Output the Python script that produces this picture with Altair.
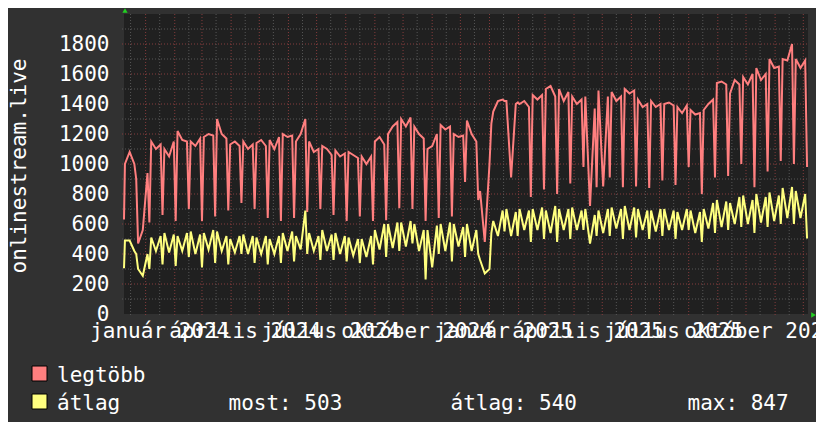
import datetime as dt
import altair as alt
import pandas as pd

# ---------------- data ----------------
START = dt.date(2023, 12, 9)
END = dt.date(2025, 12, 6)
TOTAL_DAYS = (END - START).days
PERIOD_DAYS = 14
POINT_OFFSETS = [1, 6, 11, 13]

red_start = 630
yel_start = 305

red_a = [1000, 470, 1150, 1100, 1220, 1150, 1180, 1300, 1130, 1150, 1140, 1160, 1200, 1150, 1150, 1120,
         1090, 1080, 1050, 1150, 1200, 1300, 1250, 1100, 1260, 1200, 1290, 820, 1350, 1420, 1400, 1460,
         1500, 1500, 1450, 1450, 1490, 1480, 1500, 1430, 1420, 1400, 1380, 1360, 1360, 1540, 1470, 1580,
         1640, 1700, 1700, 1700]
red_m = [1080, 560, 1100, 1050, 1160, 1120, 1200, 1200, 1150, 1100, 1160, 1100, 1180, 1200, 1080, 1100,
         1050, 1060, 1000, 1180, 1250, 1250, 1200, 1120, 1230, 1180, 1200, 480, 1420, 910, 1420, 1430,
         1520, 1420, 1400, 720, 850, 1420, 1470, 1380, 1380, 1410, 1340, 1330, 1400, 1550, 1560, 1530,
         1560, 1640, 1690, 1640]
red_c = [1000, 940, 1130, 1150, 1150, 1170, 1190, 1170, 1120, 1130, 1120, 1180, 1190, 1300, 1100, 1060,
         1070, 1040, 1050, 1130, 1280, 1310, 1170, 1200, 1250, 1190, 1150, 1000, 1430, 1400, 1380, 1460,
         1450, 1480, 1430, 1370, 1450, 1450, 1490, 1400, 1400, 1390, 1390, 1340, 1430, 1530, 1530, 1600,
         1600, 1650, 1800, 1690]
red_lo = [900, 610, 660, 620, 700, 620, 650, 690, 740, 700, 640, 620, 640, 680, 700, 660,
          620, 650, 620, 625, 705, 700, 620, 640, 650, 880, 760, 1270, 1420, 1410, 780, 830,
          800, 870, 980, 845, 910, 845, 850, 840, 890, 860, 980, 800, 910, 920, 1000, 845,
          950, 1020, 1000, 980]

yel_a = [490, 300, 510, 540, 520, 550, 540, 550, 500, 530, 510, 500, 540, 520, 540, 560,
         540, 510, 500, 560, 600, 610, 600, 560, 600, 600, 600, 360, 620, 700, 700, 700,
         690, 700, 710, 700, 690, 710, 720, 700, 690, 700, 680, 690, 700, 760, 740, 790,
         800, 810, 840, 820]
yel_m = [490, 255, 420, 410, 420, 400, 430, 420, 410, 400, 400, 400, 420, 430, 420, 420,
         400, 390, 380, 430, 440, 450, 420, 310, 420, 450, 420, 270, 520, 520, 560, 560,
         540, 560, 560, 470, 540, 570, 560, 560, 550, 560, 560, 540, 570, 580, 600, 600,
         610, 620, 640, 640]
yel_c = [420, 400, 520, 530, 540, 530, 560, 520, 520, 520, 520, 520, 550, 690, 520, 530,
         520, 500, 520, 600, 610, 620, 560, 590, 610, 580, 560, 300, 690, 680, 690, 710,
         720, 700, 690, 660, 700, 700, 710, 690, 700, 690, 700, 680, 740, 750, 780, 760,
         780, 790, 847, 800]
yel_lo = [400, 300, 330, 320, 380, 310, 340, 330, 400, 340, 330, 340, 350, 400, 360, 360,
          350, 340, 330, 380, 420, 470, 230, 400, 350, 380, 400, 540, 550, 520, 480, 500,
          480, 500, 560, 520, 520, 500, 510, 500, 520, 500, 560, 480, 540, 560, 580, 540,
          580, 600, 600, 503]

series_names = ["legtöbb", "átlag"]
series_colors = ["#ff7f7f", "#ffff7f"]

x_label_texts = ["január 2024", "április 2024", "július 2024", "október 2024",
                 "január 2025", "április 2025", "július 2025", "október 2025"]
x_label_dates = [dt.date(2024, 1, 16), dt.date(2024, 4, 16), dt.date(2024, 7, 16), dt.date(2024, 10, 16),
                 dt.date(2025, 1, 16), dt.date(2025, 4, 16), dt.date(2025, 7, 16), dt.date(2025, 10, 16)]
y_label_values = [0, 200, 400, 600, 800, 1000, 1200, 1400, 1600, 1800]

legend_now = "most: 503"
legend_avg = "átlag: 540"
legend_max = "max: 847"

# ---------------- tables ----------------
rows = [{"day": 0, "value": red_start, "series": series_names[0]},
        {"day": 0, "value": yel_start, "series": series_names[1]}]
for k in range(len(red_a)):
    base = k * PERIOD_DAYS
    for off, rv, yv in zip(POINT_OFFSETS,
                           (red_a[k], red_m[k], red_c[k], red_lo[k]),
                           (yel_a[k], yel_m[k], yel_c[k], yel_lo[k])):
        rows.append({"day": base + off, "value": rv, "series": series_names[0]})
        rows.append({"day": base + off, "value": yv, "series": series_names[1]})
lines_df = pd.DataFrame(rows)

month_starts = pd.date_range("2024-01-01", "2025-12-31", freq="MS")
vmajor = pd.DataFrame({"day": [(d.date() - START).days for d in month_starts]})
mid_days = [dt.date(2023, 12, 16)] + [dt.date(d.year, d.month, 16) for d in month_starts]
vminor = pd.DataFrame({"day": [(d - START).days for d in mid_days if (d - START).days < TOTAL_DAYS]})
hmajor = pd.DataFrame({"value": list(range(200, 2000, 200))})
hminor = pd.DataFrame({"value": list(range(100, 2000, 200))})

xlab_df = pd.DataFrame({"day": [(d - START).days for d in x_label_dates], "label": x_label_texts})
one = pd.DataFrame({"a": [0]})

# ---------------- chart ----------------
FONT = "DejaVu Sans Mono"
FS = 21
W, H = 684, 300
xscale = alt.Scale(domain=[0, TOTAL_DAYS], nice=False, zero=False)
yscale = alt.Scale(domain=[0, 2000], nice=False, zero=False)

yaxis = alt.Axis(values=y_label_values, format="d", grid=False, domain=False, ticks=False, tickSize=0,
                 labelPadding=15, labelFont=FONT, labelFontSize=FS, labelColor="#ffffff",
                 labelFlush=False, labelOverlap=False, labelBound=False,
                 title="onlinestream.live", titleFont=FONT, titleFontSize=FS,
                 titleFontWeight="normal", titleColor="#ffffff", titleAngle=270,
                 titleX=-99, titleY=151.5, titleAlign="center", titleBaseline="alphabetic")

grid_minor_c = "#565656"
grid_major_c = "#853c3c"
DASH = [1, 2]

h_minor = alt.Chart(hminor).mark_rule(color=grid_minor_c, strokeDash=DASH, strokeWidth=1).encode(
    y=alt.Y("value:Q", scale=yscale, axis=yaxis), x=alt.value(-2), x2=alt.value(W))
h_major = alt.Chart(hmajor).mark_rule(color=grid_major_c, strokeDash=DASH, strokeWidth=1).encode(
    y=alt.Y("value:Q", scale=yscale, axis=yaxis), x=alt.value(-2), x2=alt.value(W))
v_minor = alt.Chart(vminor).mark_rule(color=grid_minor_c, strokeDash=DASH, strokeWidth=1).encode(
    x=alt.X("day:Q", scale=xscale, axis=None), y=alt.value(0), y2=alt.value(H + 2))
v_major = alt.Chart(vmajor).mark_rule(color=grid_major_c, strokeDash=DASH, strokeWidth=1).encode(
    x=alt.X("day:Q", scale=xscale, axis=None), y=alt.value(0), y2=alt.value(H + 3))

lines = alt.Chart(lines_df).mark_line(strokeWidth=2, interpolate="linear").encode(
    x=alt.X("day:Q", scale=xscale, axis=None),
    y=alt.Y("value:Q", scale=yscale, axis=yaxis),
    color=alt.Color("series:N", scale=alt.Scale(domain=series_names, range=series_colors), legend=None),
    detail="series:N",
)

xlabels = alt.Chart(xlab_df).mark_text(font=FONT, fontSize=FS, color="#ffffff", align="center",
                                        baseline="alphabetic").encode(
    x=alt.X("day:Q", scale=xscale, axis=None), y=alt.value(323.5), text="label:N")

arrow_up = alt.Chart(one).mark_point(shape="triangle-up", filled=True, size=28, color="#22d022",
                                     opacity=1).encode(x=alt.value(1), y=alt.value(-3.5))
arrow_right = alt.Chart(one).mark_point(shape="triangle-right", filled=True, size=28, color="#22d022",
                                        opacity=1).encode(x=alt.value(689.5), y=alt.value(301))


def swatch(color, y):
    return alt.Chart(one).mark_square(size=225, filled=True, color=color, stroke="#000000",
                                      strokeWidth=1, opacity=1).encode(x=alt.value(-84.5), y=alt.value(y))


def legend_text(txt, x, y):
    return alt.Chart(one).mark_text(font=FONT, fontSize=FS, color="#ffffff", align="left",
                                    baseline="alphabetic").encode(x=alt.value(x), y=alt.value(y),
                                                                   text=alt.value(txt))


chart = alt.layer(
    h_minor, h_major, v_minor, v_major, lines, xlabels, arrow_up, arrow_right,
    swatch(series_colors[0], 359.5), swatch(series_colors[1], 387.5),
    legend_text(series_names[0], -67, 367.5),
    legend_text(series_names[1], -67, 395.5),
    legend_text(legend_now, 104.5, 395.5),
    legend_text(legend_avg, 326.5, 395.5),
    legend_text(legend_max, 563.5, 395.5),
).properties(
    width=W, height=H,
    padding={"left": 116, "top": 6, "right": 8, "bottom": 108},
    autosize=alt.AutoSizeParams(type="none"),
    background="#313131",
).configure_view(fill="#202020", stroke=None)

chart.save("out.html", embed_options={"renderer": "svg", "actions": False})
